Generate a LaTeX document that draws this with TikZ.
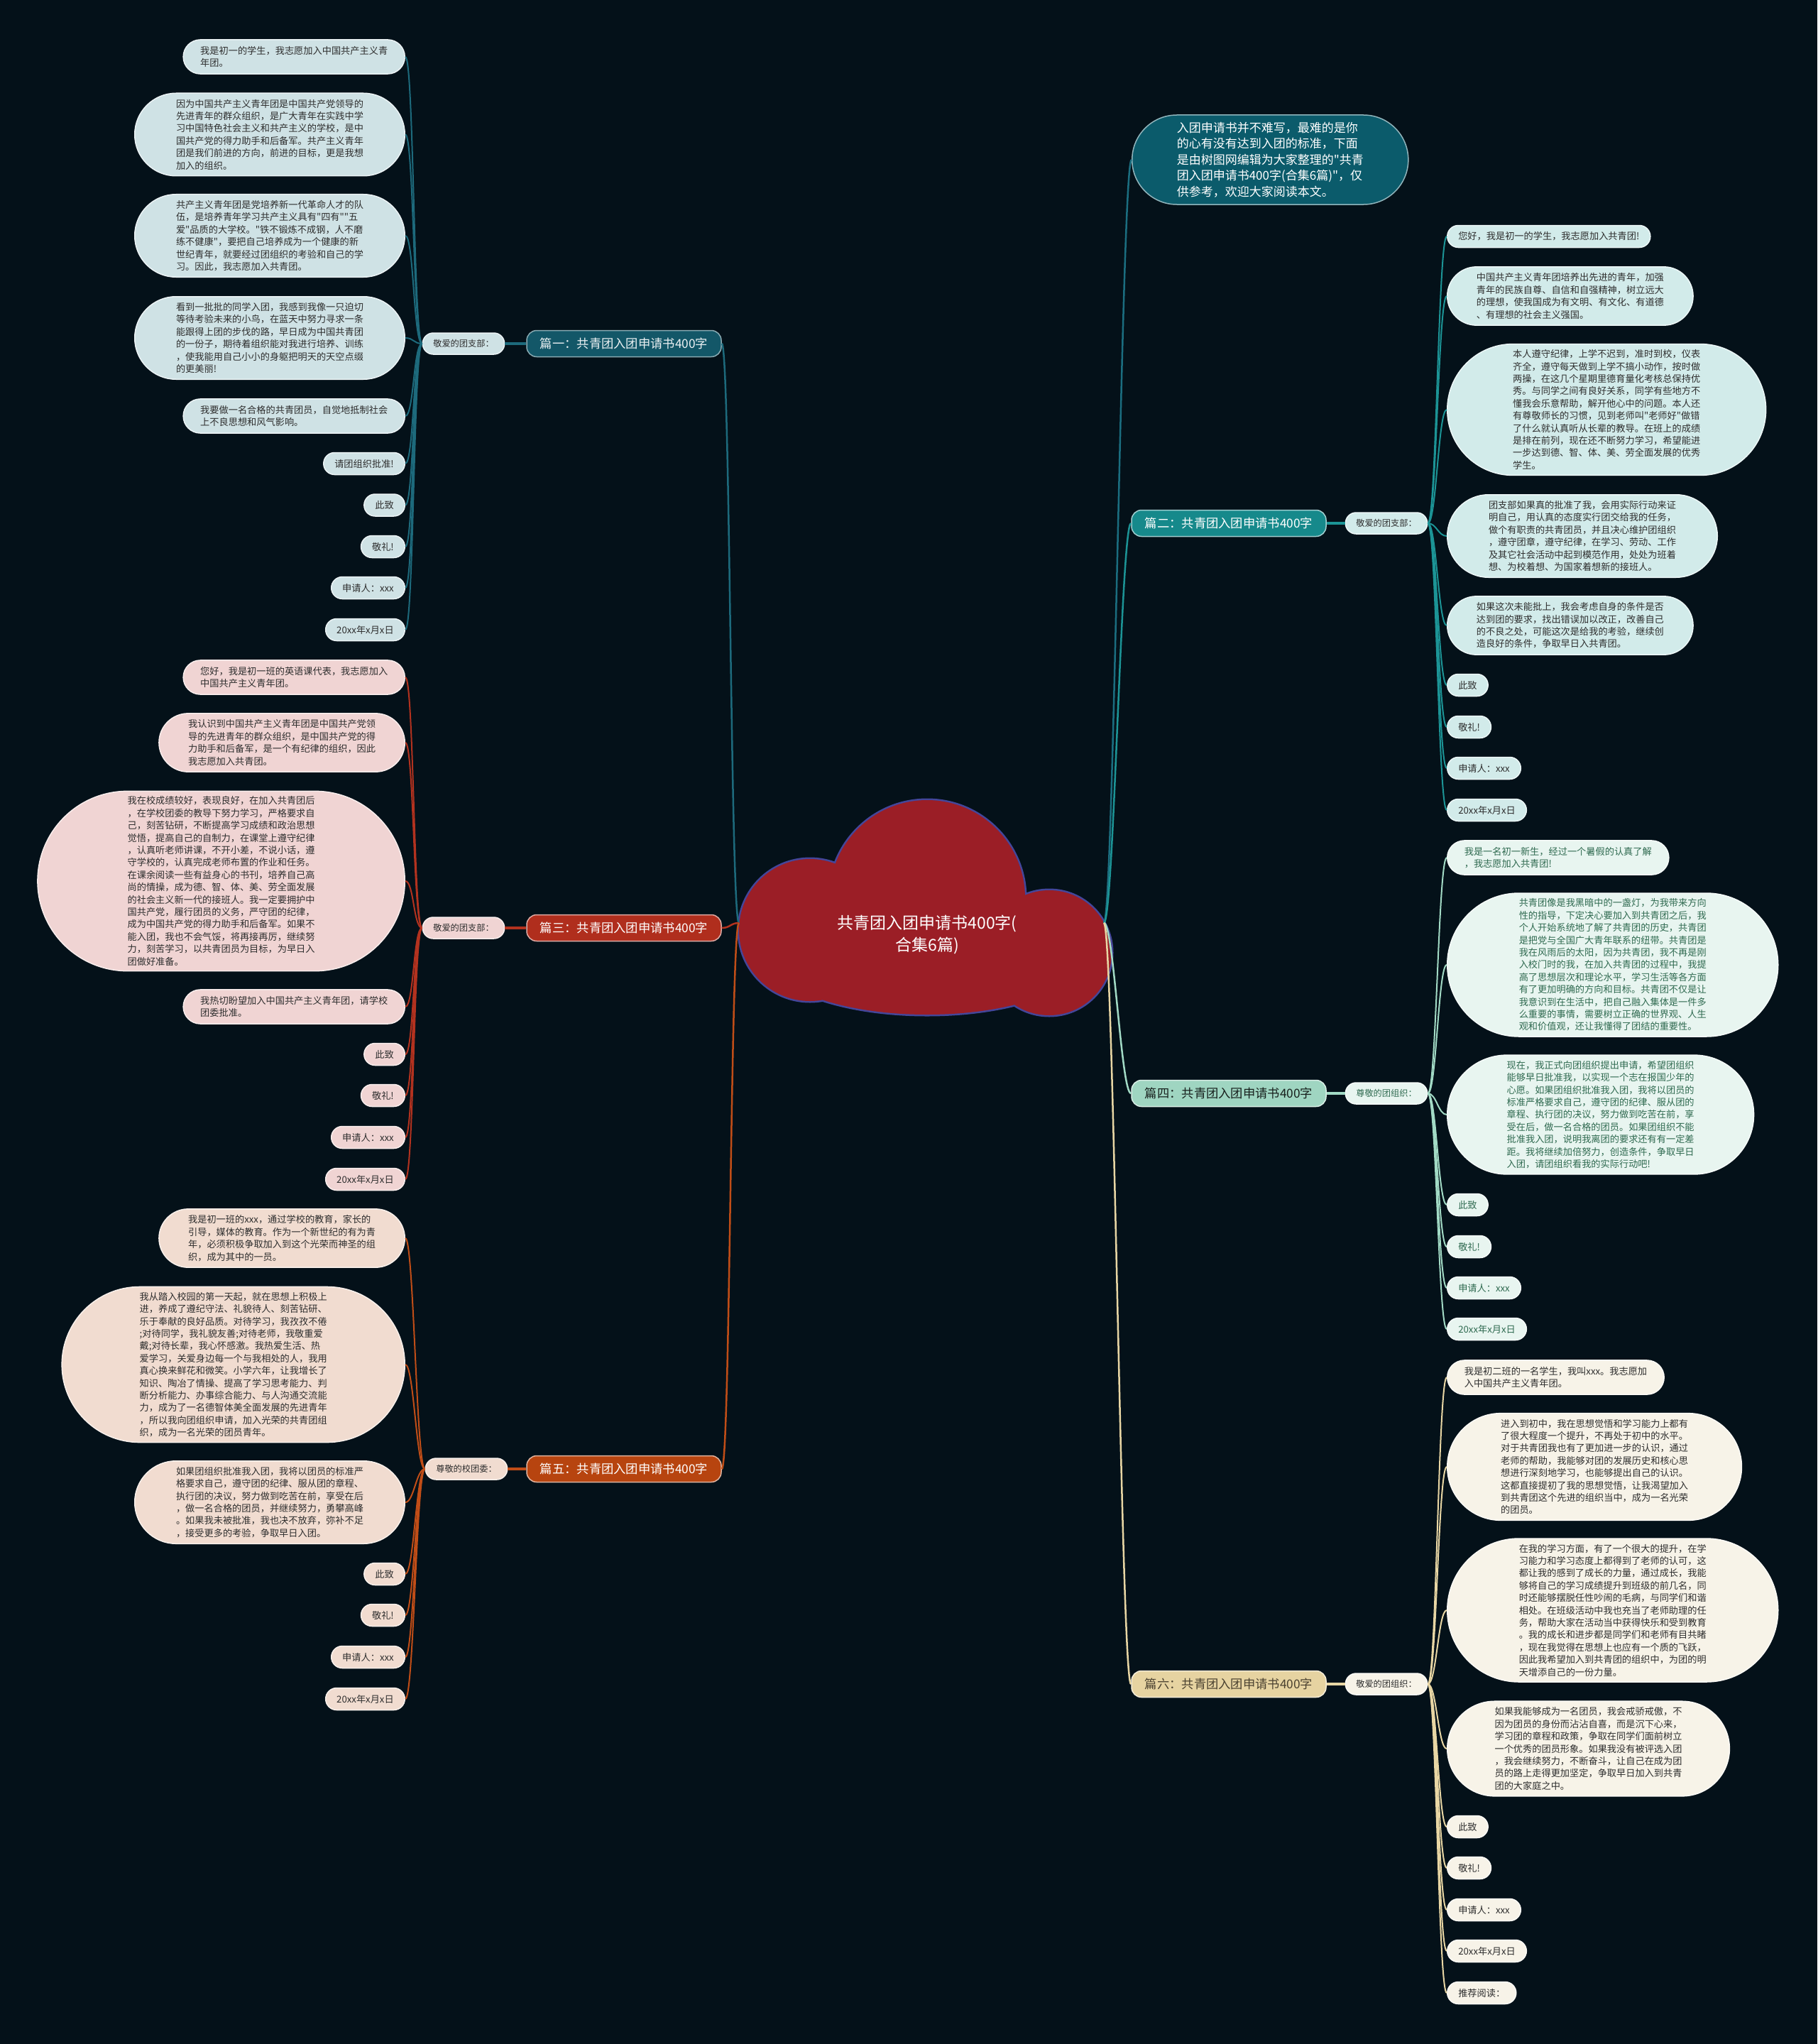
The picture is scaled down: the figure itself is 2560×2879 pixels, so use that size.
\documentclass[tikz,border=0pt]{standalone}
\usepackage{fontspec}
\setmainfont{Noto Sans CJK SC}
\newfontfamily\cjkfont{Noto Sans CJK SC}
\usepackage{tikz}
\usetikzlibrary{positioning}

\definecolor{bgdark}{HTML}{041119}
\definecolor{cloudred}{HTML}{9B1E26}
\definecolor{cloudedge}{HTML}{44469A}
\definecolor{introfill}{HTML}{0B5B6B}
\definecolor{introline}{HTML}{1B6E80}
\definecolor{oneline}{HTML}{1D6A7C}
\definecolor{onefill}{HTML}{135768}
\definecolor{oneleaf}{HTML}{CFE2E5}
\definecolor{twoline}{HTML}{1C9496}
\definecolor{twofill}{HTML}{16898B}
\definecolor{twoleaf}{HTML}{D2EBEA}
\definecolor{threeline}{HTML}{B3321F}
\definecolor{threefill}{HTML}{B02E1D}
\definecolor{threeleaf}{HTML}{F0D4D3}
\definecolor{fourline}{HTML}{A2DAC5}
\definecolor{fourfill}{HTML}{9FD5C1}
\definecolor{fourleaf}{HTML}{E8F5F0}
\definecolor{fourtext}{HTML}{2F6A50}
\definecolor{fiveline}{HTML}{C04D17}
\definecolor{fivefill}{HTML}{B7440F}
\definecolor{fiveleaf}{HTML}{F1DCD0}
\definecolor{sixline}{HTML}{E8D6A4}
\definecolor{sixfill}{HTML}{E6D3A1}
\definecolor{sixleaf}{HTML}{F7F3E8}
\definecolor{sixtext}{HTML}{4A4130}
\definecolor{darktext}{HTML}{2E2E2E}

\newcommand{\fsleaf}{\cjkfont\fontsize{13.2pt}{17.4pt}\selectfont}
\newcommand{\fslabel}{\cjkfont\fontsize{12.2pt}{15pt}\selectfont}
\newcommand{\fstitle}{\cjkfont\fontsize{17.3pt}{21pt}\selectfont}
\newcommand{\fsintro}{\cjkfont\fontsize{17pt}{22.5pt}\selectfont}
\newcommand{\fscenter}{\cjkfont\fontsize{23pt}{31pt}\selectfont}

\tikzset{
	pill/.style={rectangle, minimum height={31pt+(#1-1)*17.1pt}, rounded corners={15.5pt+(#1-1)*8.55pt}, inner xsep={15.5pt+(#1-1)*8.55pt}, inner ysep=1pt}
}

\begin{document}
\begin{tikzpicture}[x=1pt, y=-1pt]
		\tikzstyle{Leaf}	= [align=left, font=\fsleaf, line width=1.5pt, text=darktext]
		\tikzstyle{Sub}		= [pill=1, minimum height=30pt, inner xsep=15pt, rounded corners=15pt, font=\fslabel, line width=1.5pt, text=darktext]
		\tikzstyle{Title}	= [rectangle, rounded corners=14pt, minimum width=274pt, minimum height=37pt, font=\fstitle, line width=1.5pt]
		\tikzstyle{Intro}	= [rectangle, minimum height=126pt, rounded corners=63pt, inner xsep=63pt, inner ysep=1pt, align=left, font=\fsintro, line width=1.5pt, fill=introfill, draw=introfill!45!white, text=white]
		\tikzstyle{Root}	= [align=center, font=\fscenter, text=white]
		\tikzstyle{P1}		= [fill=oneleaf, draw=oneleaf!40!white]
		\tikzstyle{P2}		= [fill=twoleaf, draw=twoleaf!40!white]
		\tikzstyle{P3}		= [fill=threeleaf, draw=threeleaf!40!white]
		\tikzstyle{P4}		= [fill=fourleaf, draw=fourleaf!40!white, text=fourtext]
		\tikzstyle{P5}		= [fill=fiveleaf, draw=fiveleaf!40!white]
		\tikzstyle{P6}		= [fill=sixleaf, draw=sixleaf!40!white]
		\tikzstyle{C0}		= [line width=2.5pt, introline]
		\tikzstyle{C1}		= [line width=2pt, oneline]
		\tikzstyle{C2}		= [line width=2pt, twoline]
		\tikzstyle{C3}		= [line width=2pt, threeline]
		\tikzstyle{C4}		= [line width=2pt, fourline]
		\tikzstyle{C5}		= [line width=2pt, fiveline]
		\tikzstyle{C6}		= [line width=2pt, sixline]

		\fill [bgdark] (0, 0) rectangle (2560, 2879);
		\useasboundingbox (0, 0) rectangle (2560, 2879);

		\path [draw=cloudedge, line width=5pt] (1306, 1265) circle [radius=138pt] (1141, 1310) circle [radius=100pt] (1478, 1342) circle [radius=88pt] (1306, 1340) ellipse [x radius=230pt, y radius=89pt];
		\path [fill=cloudred] (1306, 1265) circle [radius=138pt] (1141, 1310) circle [radius=100pt] (1478, 1342) circle [radius=88pt] (1306, 1340) ellipse [x radius=230pt, y radius=89pt];
		\node (root) at (1306, 1316) [Root] {共青团入团申请书400字(\\合集6篇)};
		\coordinate (cl) at (1041, 1300);
		\coordinate (cr) at (1555, 1300);

		\node (intro) at (1594, 225) [Intro, anchor=west] {入团申请书并不难写，最难的是你\\的心有没有达到入团的标准，下面\\是由树图网编辑为大家整理的"共青\\团入团申请书400字(合集6篇)"，仅\\供参考，欢迎大家阅读本文。};

		\node (t1) at (879, 484) [Title, fill=onefill, draw=onefill!50!white, text=white!92!onefill] {篇一：共青团入团申请书400字};
		\node (t2) at (1731, 737) [Title, fill=twofill, draw=twofill!40!white, text=white] {篇二：共青团入团申请书400字};
		\node (t3) at (879, 1307) [Title, fill=threefill, draw=threefill!40!white, text=white] {篇三：共青团入团申请书400字};
		\node (t4) at (1731, 1540) [Title, fill=fourfill, draw=fourfill!40!white, text=black!85!fourfill] {篇四：共青团入团申请书400字};
		\node (t5) at (879, 2069) [Title, fill=fivefill, draw=fivefill!40!white, text=white] {篇五：共青团入团申请书400字};
		\node (t6) at (1731, 2372) [Title, fill=sixfill, draw=sixfill!40!white, text=sixtext] {篇六：共青团入团申请书400字};

		\node (s1) at (653, 484) [Sub, P1] {敬爱的团支部：};
		\node (s2) at (1953, 737) [Sub, P2] {敬爱的团支部：};
		\node (s3) at (653, 1307) [Sub, P3] {敬爱的团支部：};
		\node (s4) at (1953, 1540) [Sub, P4] {尊敬的团组织：};
		\node (s5) at (657, 2069) [Sub, P5] {尊敬的校团委：};
		\node (s6) at (1953, 2372) [Sub, P6] {敬爱的团组织：};

		\node (a1) at (571, 80) [Leaf, pill=2, P1, anchor=east] {我是初一的学生，我志愿加入中国共产主义青\\年团。};
		\node (a2) at (571, 189.5) [Leaf, pill=6, P1, anchor=east] {因为中国共产主义青年团是中国共产党领导的\\先进青年的群众组织，是广大青年在实践中学\\习中国特色社会主义和共产主义的学校，是中\\国共产党的得力助手和后备军。共产主义青年\\团是我们前进的方向，前进的目标，更是我想\\加入的组织。};
		\node (a3) at (571, 332) [Leaf, pill=6, P1, anchor=east] {共产主义青年团是党培养新一代革命人才的队\\伍，是培养青年学习共产主义具有"四有""五\\爱"品质的大学校。"铁不锻炼不成钢，人不磨\\练不健康"，要把自己培养成为一个健康的新\\世纪青年，就要经过团组织的考验和自己的学\\习。因此，我志愿加入共青团。};
		\node (a4) at (571, 476) [Leaf, pill=6, P1, anchor=east] {看到一批批的同学入团，我感到我像一只迫切\\等待考验未来的小鸟，在蓝天中努力寻求一条\\能跟得上团的步伐的路，早日成为中国共青团\\的一份子，期待着组织能对我进行培养、训练\\，使我能用自己小小的身躯把明天的天空点缀\\的更美丽!};
		\node (a5) at (571, 586) [Leaf, pill=2, P1, anchor=east] {我要做一名合格的共青团员，自觉地抵制社会\\上不良思想和风气影响。};
		\node (a6) at (571, 653) [Leaf, pill=1, P1, anchor=east] {请团组织批准!};
		\node (a7) at (571, 711.5) [Leaf, pill=1, P1, anchor=east] {此致};
		\node (a8) at (571, 770) [Leaf, pill=1, P1, anchor=east] {敬礼!};
		\node (a9) at (571, 828) [Leaf, pill=1, P1, anchor=east] {申请人：xxx};
		\node (a10) at (571, 887) [Leaf, pill=1, P1, anchor=east] {20xx年x月x日};

		\node (c1) at (571, 954) [Leaf, pill=2, P3, anchor=east] {您好，我是初一班的英语课代表，我志愿加入\\中国共产主义青年团。};
		\node (c2) at (571, 1046) [Leaf, pill=4, P3, anchor=east] {我认识到中国共产主义青年团是中国共产党领\\导的先进青年的群众组织，是中国共产党的得\\力助手和后备军，是一个有纪律的组织，因此\\我志愿加入共青团。};
		\node (c3) at (571, 1241) [Leaf, pill=14, P3, anchor=east] {我在校成绩较好，表现良好，在加入共青团后\\，在学校团委的教导下努力学习，严格要求自\\己，刻苦钻研，不断提高学习成绩和政治思想\\觉悟，提高自己的自制力，在课堂上遵守纪律\\，认真听老师讲课，不开小差，不说小话，遵\\守学校的，认真完成老师布置的作业和任务。\\在课余阅读一些有益身心的书刊，培养自己高\\尚的情操，成为德、智、体、美、劳全面发展\\的社会主义新一代的接班人。我一定要拥护中\\国共产党，履行团员的义务，严守团的纪律，\\成为中国共产党的得力助手和后备军。如果不\\能入团，我也不会气馁，将再接再厉，继续努\\力，刻苦学习，以共青团员为目标，为早日入\\团做好准备。};
		\node (c4) at (571, 1418) [Leaf, pill=2, P3, anchor=east] {我热切盼望加入中国共产主义青年团，请学校\\团委批准。};
		\node (c5) at (571, 1485) [Leaf, pill=1, P3, anchor=east] {此致};
		\node (c6) at (571, 1543) [Leaf, pill=1, P3, anchor=east] {敬礼!};
		\node (c7) at (571, 1602) [Leaf, pill=1, P3, anchor=east] {申请人：xxx};
		\node (c8) at (571, 1661) [Leaf, pill=1, P3, anchor=east] {20xx年x月x日};

		\node (e1) at (571, 1744) [Leaf, pill=4, P5, anchor=east] {我是初一班的xxx，通过学校的教育，家长的\\引导，媒体的教育。作为一个新世纪的有为青\\年，必须积极争取加入到这个光荣而神圣的组\\织，成为其中的一员。};
		\node (e2) at (571, 1922) [Leaf, pill=12, P5, anchor=east] {我从踏入校园的第一天起，就在思想上积极上\\进，养成了遵纪守法、礼貌待人、刻苦钻研、\\乐于奉献的良好品质。对待学习，我孜孜不倦\\;对待同学，我礼貌友善;对待老师，我敬重爱\\戴;对待长辈，我心怀感激。我热爱生活、热\\爱学习，关爱身边每一个与我相处的人，我用\\真心换来鲜花和微笑。小学六年，让我增长了\\知识、陶冶了情操、提高了学习思考能力、判\\断分析能力、办事综合能力、与人沟通交流能\\力，成为了一名德智体美全面发展的先进青年\\，所以我向团组织申请，加入光荣的共青团组\\织，成为一名光荣的团员青年。};
		\node (e3) at (571, 2116) [Leaf, pill=6, P5, anchor=east] {如果团组织批准我入团，我将以团员的标准严\\格要求自己，遵守团的纪律、服从团的章程、\\执行团的决议，努力做到吃苦在前，享受在后\\，做一名合格的团员，并继续努力，勇攀高峰\\。如果我未被批准，我也决不放弃，弥补不足\\，接受更多的考验，争取早日入团。};
		\node (e4) at (571, 2217) [Leaf, pill=1, P5, anchor=east] {此致};
		\node (e5) at (571, 2275) [Leaf, pill=1, P5, anchor=east] {敬礼!};
		\node (e6) at (571, 2334) [Leaf, pill=1, P5, anchor=east] {申请人：xxx};
		\node (e7) at (571, 2393) [Leaf, pill=1, P5, anchor=east] {20xx年x月x日};

		\node (b1) at (2038, 333) [Leaf, pill=1, P2, anchor=west] {您好，我是初一的学生，我志愿加入共青团!};
		\node (b2) at (2038, 417) [Leaf, pill=4, P2, anchor=west] {中国共产主义青年团培养出先进的青年，加强\\青年的民族自尊、自信和自强精神，树立远大\\的理想，使我国成为有文明、有文化、有道德\\、有理想的社会主义强国。};
		\node (b3) at (2038, 577) [Leaf, pill=10, P2, anchor=west] {本人遵守纪律，上学不迟到，准时到校，仪表\\齐全，遵守每天做到上学不搞小动作，按时做\\两操，在这几个星期里德育量化考核总保持优\\秀。与同学之间有良好关系，同学有些地方不\\懂我会乐意帮助，解开他心中的问题。本人还\\有尊敬师长的习惯，见到老师叫"老师好"做错\\了什么就认真听从长辈的教导。在班上的成绩\\是排在前列，现在还不断努力学习，希望能进\\一步达到德、智、体、美、劳全面发展的优秀\\学生。};
		\node (b4) at (2038, 755) [Leaf, pill=6, P2, anchor=west] {团支部如果真的批准了我，会用实际行动来证\\明自己，用认真的态度实行团交给我的任务，\\做个有职责的共青团员，并且决心维护团组织\\，遵守团章，遵守纪律，在学习、劳动、工作\\及其它社会活动中起到模范作用，处处为班着\\想、为校着想、为国家着想新的接班人。};
		\node (b5) at (2038, 881) [Leaf, pill=4, P2, anchor=west] {如果这次未能批上，我会考虑自身的条件是否\\达到团的要求，找出错误加以改正，改善自己\\的不良之处，可能这次是给我的考验，继续创\\造良好的条件，争取早日入共青团。};
		\node (b6) at (2038, 965) [Leaf, pill=1, P2, anchor=west] {此致};
		\node (b7) at (2038, 1024) [Leaf, pill=1, P2, anchor=west] {敬礼!};
		\node (b8) at (2038, 1082) [Leaf, pill=1, P2, anchor=west] {申请人：xxx};
		\node (b9) at (2038, 1141) [Leaf, pill=1, P2, anchor=west] {20xx年x月x日};

		\node (d1) at (2038, 1208) [Leaf, pill=2, P4, anchor=west] {我是一名初一新生，经过一个暑假的认真了解\\，我志愿加入共青团!};
		\node (d2) at (2038, 1359) [Leaf, pill=11, P4, anchor=west] {共青团像是我黑暗中的一盏灯，为我带来方向\\性的指导，下定决心要加入到共青团之后，我\\个人开始系统地了解了共青团的历史，共青团\\是把党与全国广大青年联系的纽带。共青团是\\我在风雨后的太阳，因为共青团，我不再是刚\\入校门时的我，在加入共青团的过程中，我提\\高了思想层次和理论水平，学习生活等各方面\\有了更加明确的方向和目标。共青团不仅是让\\我意识到在生活中，把自己融入集体是一件多\\么重要的事情，需要树立正确的世界观、人生\\观和价值观，还让我懂得了团结的重要性。};
		\node (d3) at (2038, 1570) [Leaf, pill=9, P4, anchor=west] {现在，我正式向团组织提出申请，希望团组织\\能够早日批准我，以实现一个志在报国少年的\\心愿。如果团组织批准我入团，我将以团员的\\标准严格要求自己，遵守团的纪律、服从团的\\章程、执行团的决议，努力做到吃苦在前，享\\受在后，做一名合格的团员。如果团组织不能\\批准我入团，说明我离团的要求还有有一定差\\距。我将继续加倍努力，创造条件，争取早日\\入团，请团组织看我的实际行动吧!};
		\node (d4) at (2038, 1697) [Leaf, pill=1, P4, anchor=west] {此致};
		\node (d5) at (2038, 1756) [Leaf, pill=1, P4, anchor=west] {敬礼!};
		\node (d6) at (2038, 1814) [Leaf, pill=1, P4, anchor=west] {申请人：xxx};
		\node (d7) at (2038, 1872) [Leaf, pill=1, P4, anchor=west] {20xx年x月x日};

		\node (f1) at (2038, 1940) [Leaf, pill=2, P6, anchor=west] {我是初二班的一名学生，我叫xxx。我志愿加\\入中国共产主义青年团。};
		\node (f2) at (2038, 2066) [Leaf, pill=8, P6, anchor=west] {进入到初中，我在思想觉悟和学习能力上都有\\了很大程度一个提升，不再处于初中的水平。\\对于共青团我也有了更加进一步的认识，通过\\老师的帮助，我能够对团的发展历史和核心思\\想进行深刻地学习，也能够提出自己的认识。\\这都直接提初了我的思想觉悟，让我渴望加入\\到共青团这个先进的组织当中，成为一名光荣\\的团员。};
		\node (f3) at (2038, 2268) [Leaf, pill=11, P6, anchor=west] {在我的学习方面，有了一个很大的提升，在学\\习能力和学习态度上都得到了老师的认可，这\\都让我的感到了成长的力量，通过成长，我能\\够将自己的学习成绩提升到班级的前几名，同\\时还能够摆脱任性吵闹的毛病，与同学们和谐\\相处。在班级活动中我也充当了老师助理的任\\务，帮助大家在活动当中获得快乐和受到教育\\。我的成长和进步都是同学们和老师有目共睹\\，现在我觉得在思想上也应有一个质的飞跃，\\因此我希望加入到共青团的组织中，为团的明\\天增添自己的一份力量。};
		\node (f4) at (2038, 2463) [Leaf, pill=7, P6, anchor=west] {如果我能够成为一名团员，我会戒骄戒傲，不\\因为团员的身份而沾沾自喜，而是沉下心来，\\学习团的章程和政策，争取在同学们面前树立\\一个优秀的团员形象。如果我没有被评选入团\\，我会继续努力，不断奋斗，让自己在成为团\\员的路上走得更加坚定，争取早日加入到共青\\团的大家庭之中。};
		\node (f5) at (2038, 2573) [Leaf, pill=1, P6, anchor=west] {此致};
		\node (f6) at (2038, 2631) [Leaf, pill=1, P6, anchor=west] {敬礼!};
		\node (f7) at (2038, 2690) [Leaf, pill=1, P6, anchor=west] {申请人：xxx};
		\node (f8) at (2038, 2748) [Leaf, pill=1, P6, anchor=west] {20xx年x月x日};
		\node (f9) at (2038, 2807) [Leaf, pill=1, P6, anchor=west] {推荐阅读：};

		\draw [-] (cr) .. controls +(14,0) and +(-14,0) .. (intro.west) [C0];
		\draw [-] (cl) .. controls +(-12,0) and +(12,0) .. (t1.east) [C1, line width=2.5pt];
		\draw [-] (cr) .. controls +(14,0) and +(-14,0) .. (t2.west) [C2, line width=2.5pt];
		\draw [-] (cl) .. controls +(-12,0) and +(12,0) .. (t3.east) [C3, line width=2.5pt];
		\draw [-] (cr) .. controls +(14,0) and +(-14,0) .. (t4.west) [C4, line width=2.5pt];
		\draw [-] (cl) .. controls +(-12,0) and +(12,0) .. (t5.east) [C5, line width=2.5pt];
		\draw [-] (cr) .. controls +(14,0) and +(-14,0) .. (t6.west) [C6, line width=2.5pt];

		\draw [-] (t1) to (s1) [C1, line width=4pt];
		\draw [-] (t2) to (s2) [C2, line width=4pt];
		\draw [-] (t3) to (s3) [C3, line width=4pt];
		\draw [-] (t4) to (s4) [C4, line width=4pt];
		\draw [-] (t5) to (s5) [C5, line width=4pt];
		\draw [-] (t6) to (s6) [C6, line width=4pt];

		\foreach \n in {1,...,10} \draw [-] (s1.west) .. controls +(-12,0) and +(12,0) .. (a\n.east) [C1];
		\foreach \n in {1,...,8} \draw [-] (s3.west) .. controls +(-12,0) and +(12,0) .. (c\n.east) [C3];
		\foreach \n in {1,...,7} \draw [-] (s5.west) .. controls +(-12,0) and +(12,0) .. (e\n.east) [C5];
		\foreach \n in {1,...,9} \draw [-] (s2.east) .. controls +(12,0) and +(-12,0) .. (b\n.west) [C2];
		\foreach \n in {1,...,7} \draw [-] (s4.east) .. controls +(12,0) and +(-12,0) .. (d\n.west) [C4];
		\foreach \n in {1,...,9} \draw [-] (s6.east) .. controls +(12,0) and +(-12,0) .. (f\n.west) [C6];
	\end{tikzpicture}
\end{document}
